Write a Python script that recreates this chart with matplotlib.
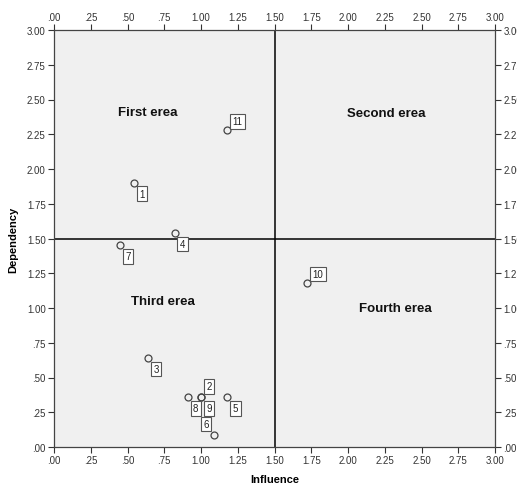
import numpy as np
import matplotlib
matplotlib.use("Agg")
import matplotlib.pyplot as plt
from matplotlib.ticker import FuncFormatter

# data
ids = ["1", "2", "3", "4", "5", "6", "7", "8", "9", "10", "11"]
influence = [0.545, 1.00, 0.64, 0.82, 1.18, 1.09, 0.45, 0.91, 1.00, 1.72, 1.18]
dependency = [1.90, 0.357, 0.64, 1.54, 0.357, 0.086, 1.45, 0.357, 0.357, 1.18, 2.28]

areas = ["First erea", "Second erea", "Third erea", "Fourth erea"]
area_x = [0.64, 2.26, 0.74, 2.32]
area_y = [2.41, 2.40, 1.05, 1.00]

ticks = np.arange(0, 3.01, 0.25)

# where each label box sits relative to its point (pixels)
offsets = {"2": (8, 11), "6": (-8, 11), "10": (11, 9), "11": (10, 9)}

plt.rcParams['font.family'] = ['Liberation Sans', 'DejaVu Sans']

fig = plt.figure(figsize=(5.17, 4.85), dpi=100)
ax = fig.add_axes([54/517, 37/485, 441/517, 417/485])
ax.set_facecolor("#f0f0f0")

ax.set_xlim(0, 3)
ax.set_ylim(0, 3)

# quadrant lines
ax.axvline(1.5, color="black", lw=1.1, zorder=1)
ax.axhline(1.5, color="black", lw=1.1, zorder=1)

ax.plot(influence, dependency, linestyle="none", marker="o", ms=5,
        mfc="none", mec="#444444", mew=0.9, zorder=3)

for i, x, y in zip(ids, influence, dependency):
    dx, dy = offsets.get(i, (8, -11))
    ax.annotate(i, (x, y), xytext=(dx, dy), textcoords="offset pixels",
                ha="center", va="center", fontsize=7, color="#222222",
                bbox=dict(boxstyle="square,pad=0.25", fc="white",
                          ec="#555555", lw=0.8), zorder=4)

for t, x, y in zip(areas, area_x, area_y):
    ax.text(x, y, t, ha="center", va="center", fontsize=9.5,
            fontweight="bold", color="#111111")

def fmt(v, pos):
    s = "%.2f" % v
    if s.startswith("0"):
        s = s[1:]
    return s

ax.set_xticks(ticks)
ax.set_yticks(ticks)
ax.xaxis.set_major_formatter(FuncFormatter(fmt))
ax.yaxis.set_major_formatter(FuncFormatter(fmt))
ax.tick_params(axis="both", direction="out", length=4, width=0.8,
               labelsize=7, colors="#333333", pad=2,
               top=True, right=True, labeltop=True, labelright=True)
for sp in ax.spines.values():
    sp.set_color("#444444")
    sp.set_linewidth(0.9)

ax.set_xlabel("Influence", fontsize=8, fontweight="bold", labelpad=6)
ax.set_ylabel("Dependency", fontsize=8, fontweight="bold", labelpad=6)

fig.savefig("out.png", dpi=100)
